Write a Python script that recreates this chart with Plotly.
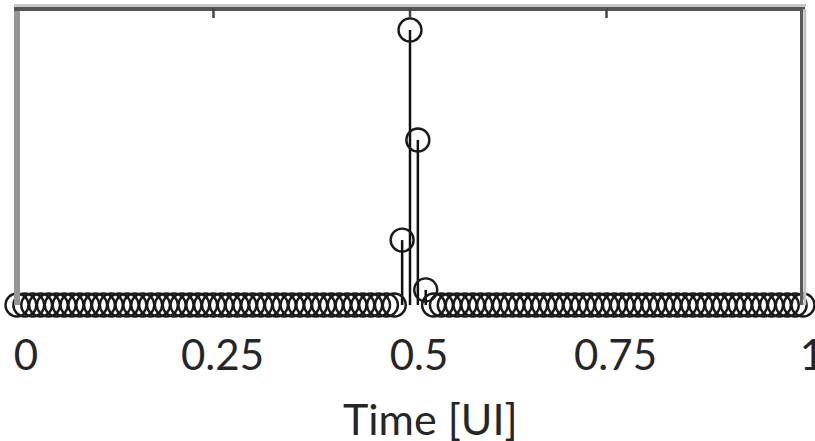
import plotly.graph_objects as go

# Sample times (UI) and impulse-response amplitudes
times = [k / 100 for k in range(101)]
nonzero = {49: 0.236, 50: 1.0, 51: 0.60, 52: 0.055}
values = [nonzero.get(k, 0.0) for k in range(101)]

x_ticks = [0, 0.25, 0.5, 0.75, 1]
x_tick_text = ["0", "0.25", "0.5", "0.75", "1"]
x_title = "Time [UI]"
y_max = 1.076

W, H = 815, 441
L, R, T, B = 17, 12, 9, 136
pw, ph = W - L - R, H - T - B

stem_x, stem_y = [], []
for t, v in zip(times, values):
    stem_x += [t, t, None]
    stem_y += [0, v, None]

fig = go.Figure()
fig.add_trace(go.Scatter(x=stem_x, y=stem_y, mode="lines",
                         line=dict(color="#111111", width=2.5),
                         hoverinfo="skip", cliponaxis=False, showlegend=False))
fig.add_trace(go.Scatter(x=times, y=values, mode="markers",
                         marker=dict(symbol="circle-open", size=23, color="#1a1a1a",
                                     line=dict(color="#1a1a1a", width=2.4)),
                         cliponaxis=False, showlegend=False))

def px_x(p):
    return p / pw

def px_y(p):
    return p / ph

shapes = [
    # left axis line
    dict(type="line", xref="paper", yref="paper", x0=0, x1=0, y0=0, y1=1 + px_y(1),
         line=dict(color="#959595", width=6)),
    # top axis line (light + dark)
    dict(type="line", xref="paper", yref="paper", x0=px_x(-3), x1=1 + px_x(3),
         y0=1 + px_y(3.5), y1=1 + px_y(3.5), line=dict(color="#c8c8c8", width=3)),
    dict(type="line", xref="paper", yref="paper", x0=px_x(-3), x1=1 + px_x(2),
         y0=1, y1=1, line=dict(color="#555555", width=4)),
    # right axis line (dark + light)
    dict(type="line", xref="paper", yref="paper", x0=1 - px_x(1.5), x1=1 - px_x(1.5),
         y0=0, y1=1, line=dict(color="#5a5a5a", width=3)),
    dict(type="line", xref="paper", yref="paper", x0=1 + px_x(1.8), x1=1 + px_x(1.8),
         y0=0, y1=1, line=dict(color="#c4c4c4", width=3)),
]
for xt in x_ticks[1:-1]:
    shapes.append(dict(type="line", xref="x", yref="paper", x0=xt, x1=xt,
                       y0=1, y1=1 - px_y(9), line=dict(color="#444444", width=2.5)))

FS = 42
fig.update_layout(
    width=W, height=H,
    margin=dict(l=L, r=R, t=T, b=B, pad=0, autoexpand=False),
    paper_bgcolor="white", plot_bgcolor="white",
    shapes=shapes,
    font=dict(family="Lato", size=FS, color="#262626"),
    xaxis=dict(range=[0, 1], tickvals=x_ticks, ticktext=x_tick_text,
               showgrid=False, zeroline=False, showline=False, ticks="",
               automargin=False,
               ticklabelshift=9, ticklabelstandoff=22, ticklabeloverflow="allow",
               tickfont=dict(family="Lato", size=FS, color="#262626")),
    yaxis=dict(range=[0, y_max], showgrid=False, zeroline=False, showline=False,
               showticklabels=False, ticks="", automargin=False),
    annotations=[dict(text=x_title, xref="paper", yref="paper",
                      x=(430 - L) / pw, y=-(418 - (H - B)) / ph,
                      xanchor="center", yanchor="middle", showarrow=False,
                      font=dict(family="Lato", size=FS + 1, color="#262626"))],
)

fig.write_html("out.html")
